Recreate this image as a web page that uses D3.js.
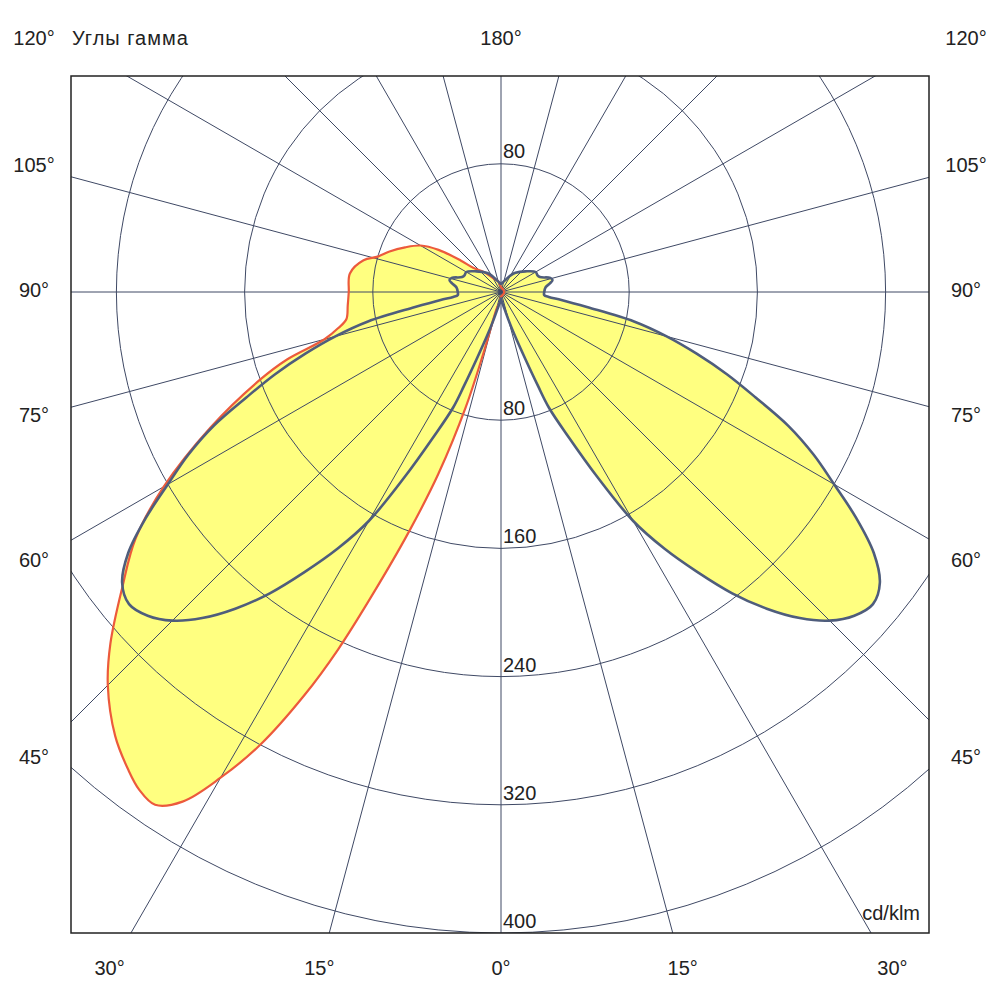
<!DOCTYPE html>
<html>
<head>
<meta charset="utf-8">
<script src="https://cdn.jsdelivr.net/npm/d3@7"></script>
<style>
  body { margin: 0; background: #fff; }
  text { font-family: "Liberation Sans", Arial, sans-serif; font-size: 20px; fill: #222; }
</style>
</head>
<body>
<div id="chart"></div>
<script>
const WIDTH = 1000;
const HEIGHT = 1000;
const CX = 501;
const CY = 292;
const FRAME = { x0: 71, y0: 76, x1: 929, y1: 933 };

// C0-C180 plane (symmetric), cd/klm by gamma angle
const blueGamma = [0, 5, 10, 15, 17.5, 20, 21.5, 22.5, 25, 27.5,
  30, 32.5, 35, 37.5, 40, 42.5, 45, 47.5, 50, 52.5,
  55, 57.5, 60, 62.5, 65, 67.5, 70, 72.5, 75, 77.5,
  80, 82.5, 84, 86, 90, 96, 100, 103, 106, 111,
  115, 120, 130, 143, 150, 160, 170, 180];
const blueValues = [4, 6, 9, 18, 28, 45, 63, 78, 100, 130,
  165, 190, 213, 237, 258, 276, 290, 299, 303, 298,
  284, 263, 240, 220, 198, 172, 150, 128, 107, 85,
  55, 38, 30, 27, 27, 28, 31, 33, 32, 26,
  25, 25, 20, 15, 12, 8, 6, 5];

// C90-C270 plane: left half carries the big lobe, right half is tiny
const redGammaLeft = [0, 5, 10, 14, 16, 17, 19, 21, 23, 24.5,
  26, 28, 30, 32, 34, 36, 38, 41, 45, 48,
  52, 56, 60, 65, 70, 72.5, 75, 77.5, 80, 85,
  90, 97, 103, 106, 110, 115, 120, 124, 128, 131,
  140, 150, 165, 180];
const redValuesLeft = [3, 6, 8, 10, 40, 75, 120, 160, 205, 245,
  280, 320, 350, 375, 386, 384, 378, 367, 347, 328,
  300, 275, 243, 200, 160, 140, 114, 104, 98, 96,
  95, 95, 88, 80, 74, 66, 58, 47, 32, 23,
  16, 10, 7, 3];
const redGammaRight = [0, 45, 90, 135, 180];
const redValuesRight = [2, 2, 2, 2, 2];

const ringTicks = [80, 160, 240, 320, 400];
const spokeAngles = d3.range(0, 360, 15);
const sideLabels = [120, 105, 90, 75, 60, 45];
const bottomLabels = [30, 15, 0];

const rScale = d3.scaleLinear().domain([0, 400]).range([0, FRAME.y1 - CY]);
const rad = function (deg) { return deg * Math.PI / 180; };

// gamma measured from nadir; left side negative. d3 radial angle 0 = up, clockwise.
var buildCurve = function (gLeft, vLeft, gRight, vRight) {
  var pts = [];
  for (var i = gLeft.length - 1; i >= 0; i--) {
    pts.push([rad(180 + gLeft[i]), rScale(vLeft[i])]);
  }
  for (var j = 1; j < gRight.length - 1; j++) {
    pts.push([rad(180 - gRight[j]), rScale(vRight[j])]);
  }
  return pts;
};

const bluePts = buildCurve(blueGamma, blueValues, blueGamma, blueValues);
const redPts = buildCurve(redGammaLeft, redValuesLeft, redGammaRight, redValuesRight);

const line = d3.lineRadial()
  .angle(function (d) { return d[0]; })
  .radius(function (d) { return d[1]; })
  .curve(d3.curveCatmullRomClosed.alpha(0.5));

const svg = d3.select('#chart').append('svg')
  .attr('width', WIDTH)
  .attr('height', HEIGHT);

svg.append('clipPath').attr('id', 'frameClip')
  .append('rect')
  .attr('x', FRAME.x0).attr('y', FRAME.y0)
  .attr('width', FRAME.x1 - FRAME.x0).attr('height', FRAME.y1 - FRAME.y0);

const plot = svg.append('g').attr('clip-path', 'url(#frameClip)');
const center = plot.append('g').attr('transform', 'translate(' + CX + ',' + CY + ')');

// fills
center.append('path').attr('d', line(redPts)).attr('fill', '#ffff80').attr('stroke', 'none');
center.append('path').attr('d', line(bluePts)).attr('fill', '#ffff80').attr('stroke', 'none');

// grid
center.selectAll('circle.ring')
  .data(ringTicks)
  .enter().append('circle')
  .attr('class', 'ring')
  .attr('r', function (d) { return rScale(d); })
  .attr('fill', 'none')
  .attr('stroke', '#3f4965')
  .attr('stroke-width', 1);

center.selectAll('line.spoke')
  .data(spokeAngles)
  .enter().append('line')
  .attr('class', 'spoke')
  .attr('x1', 0).attr('y1', 0)
  .attr('x2', function (d) { return 1200 * Math.sin(rad(d)); })
  .attr('y2', function (d) { return 1200 * Math.cos(rad(d)); })
  .attr('stroke', '#3f4965')
  .attr('stroke-width', 1);

// curves
center.append('path').attr('d', line(redPts))
  .attr('fill', 'none').attr('stroke', '#ec5a3c').attr('stroke-width', 2.2);
center.append('path').attr('d', line(bluePts))
  .attr('fill', 'none').attr('stroke', '#4f5d7c').attr('stroke-width', 2.6);

// frame
svg.append('rect')
  .attr('x', FRAME.x0).attr('y', FRAME.y0)
  .attr('width', FRAME.x1 - FRAME.x0).attr('height', FRAME.y1 - FRAME.y0)
  .attr('fill', 'none').attr('stroke', '#222').attr('stroke-width', 1.5);

// ring labels
svg.selectAll('text.ringBottom')
  .data(ringTicks)
  .enter().append('text')
  .attr('x', CX + 2)
  .attr('y', function (d) { return CY + rScale(d) - 5; })
  .text(function (d) { return d; });

svg.selectAll('text.ringTop')
  .data(ringTicks.filter(function (d) { return CY - rScale(d) > FRAME.y0; }))
  .enter().append('text')
  .attr('x', CX + 2)
  .attr('y', function (d) { return CY - rScale(d) - 6; })
  .text(function (d) { return d; });

// angle labels
var sideY = function (g) {
  var y = CY + 467 * Math.cos(rad(g)) / Math.sin(rad(g));
  return Math.max(40, y);
};

[34, 966].forEach(function (x) {
  svg.selectAll(null)
    .data(sideLabels)
    .enter().append('text')
    .attr('x', x)
    .attr('y', function (d) { return sideY(d); })
    .attr('text-anchor', 'middle')
    .attr('dominant-baseline', 'middle')
    .text(function (d) { return d + '°'; });
});

[-1, 1].forEach(function (s) {
  svg.selectAll(null)
    .data(s < 0 ? bottomLabels : bottomLabels.filter(function (d) { return d > 0; }))
    .enter().append('text')
    .attr('x', function (d) { return CX + s * 678 * Math.tan(rad(d)); })
    .attr('y', 970)
    .attr('text-anchor', 'middle')
    .attr('dominant-baseline', 'middle')
    .text(function (d) { return d + '°'; });
});

svg.append('text')
  .attr('x', CX).attr('y', 40)
  .attr('text-anchor', 'middle').attr('dominant-baseline', 'middle')
  .text('180°');

svg.append('text')
  .attr('x', 72).attr('y', 40)
  .attr('dominant-baseline', 'middle')
  .attr('letter-spacing', 1)
  .text('Углы гамма');

svg.append('text')
  .attr('x', 920).attr('y', 920)
  .attr('text-anchor', 'end')
  .text('cd/klm');
</script>
</body>
</html>
